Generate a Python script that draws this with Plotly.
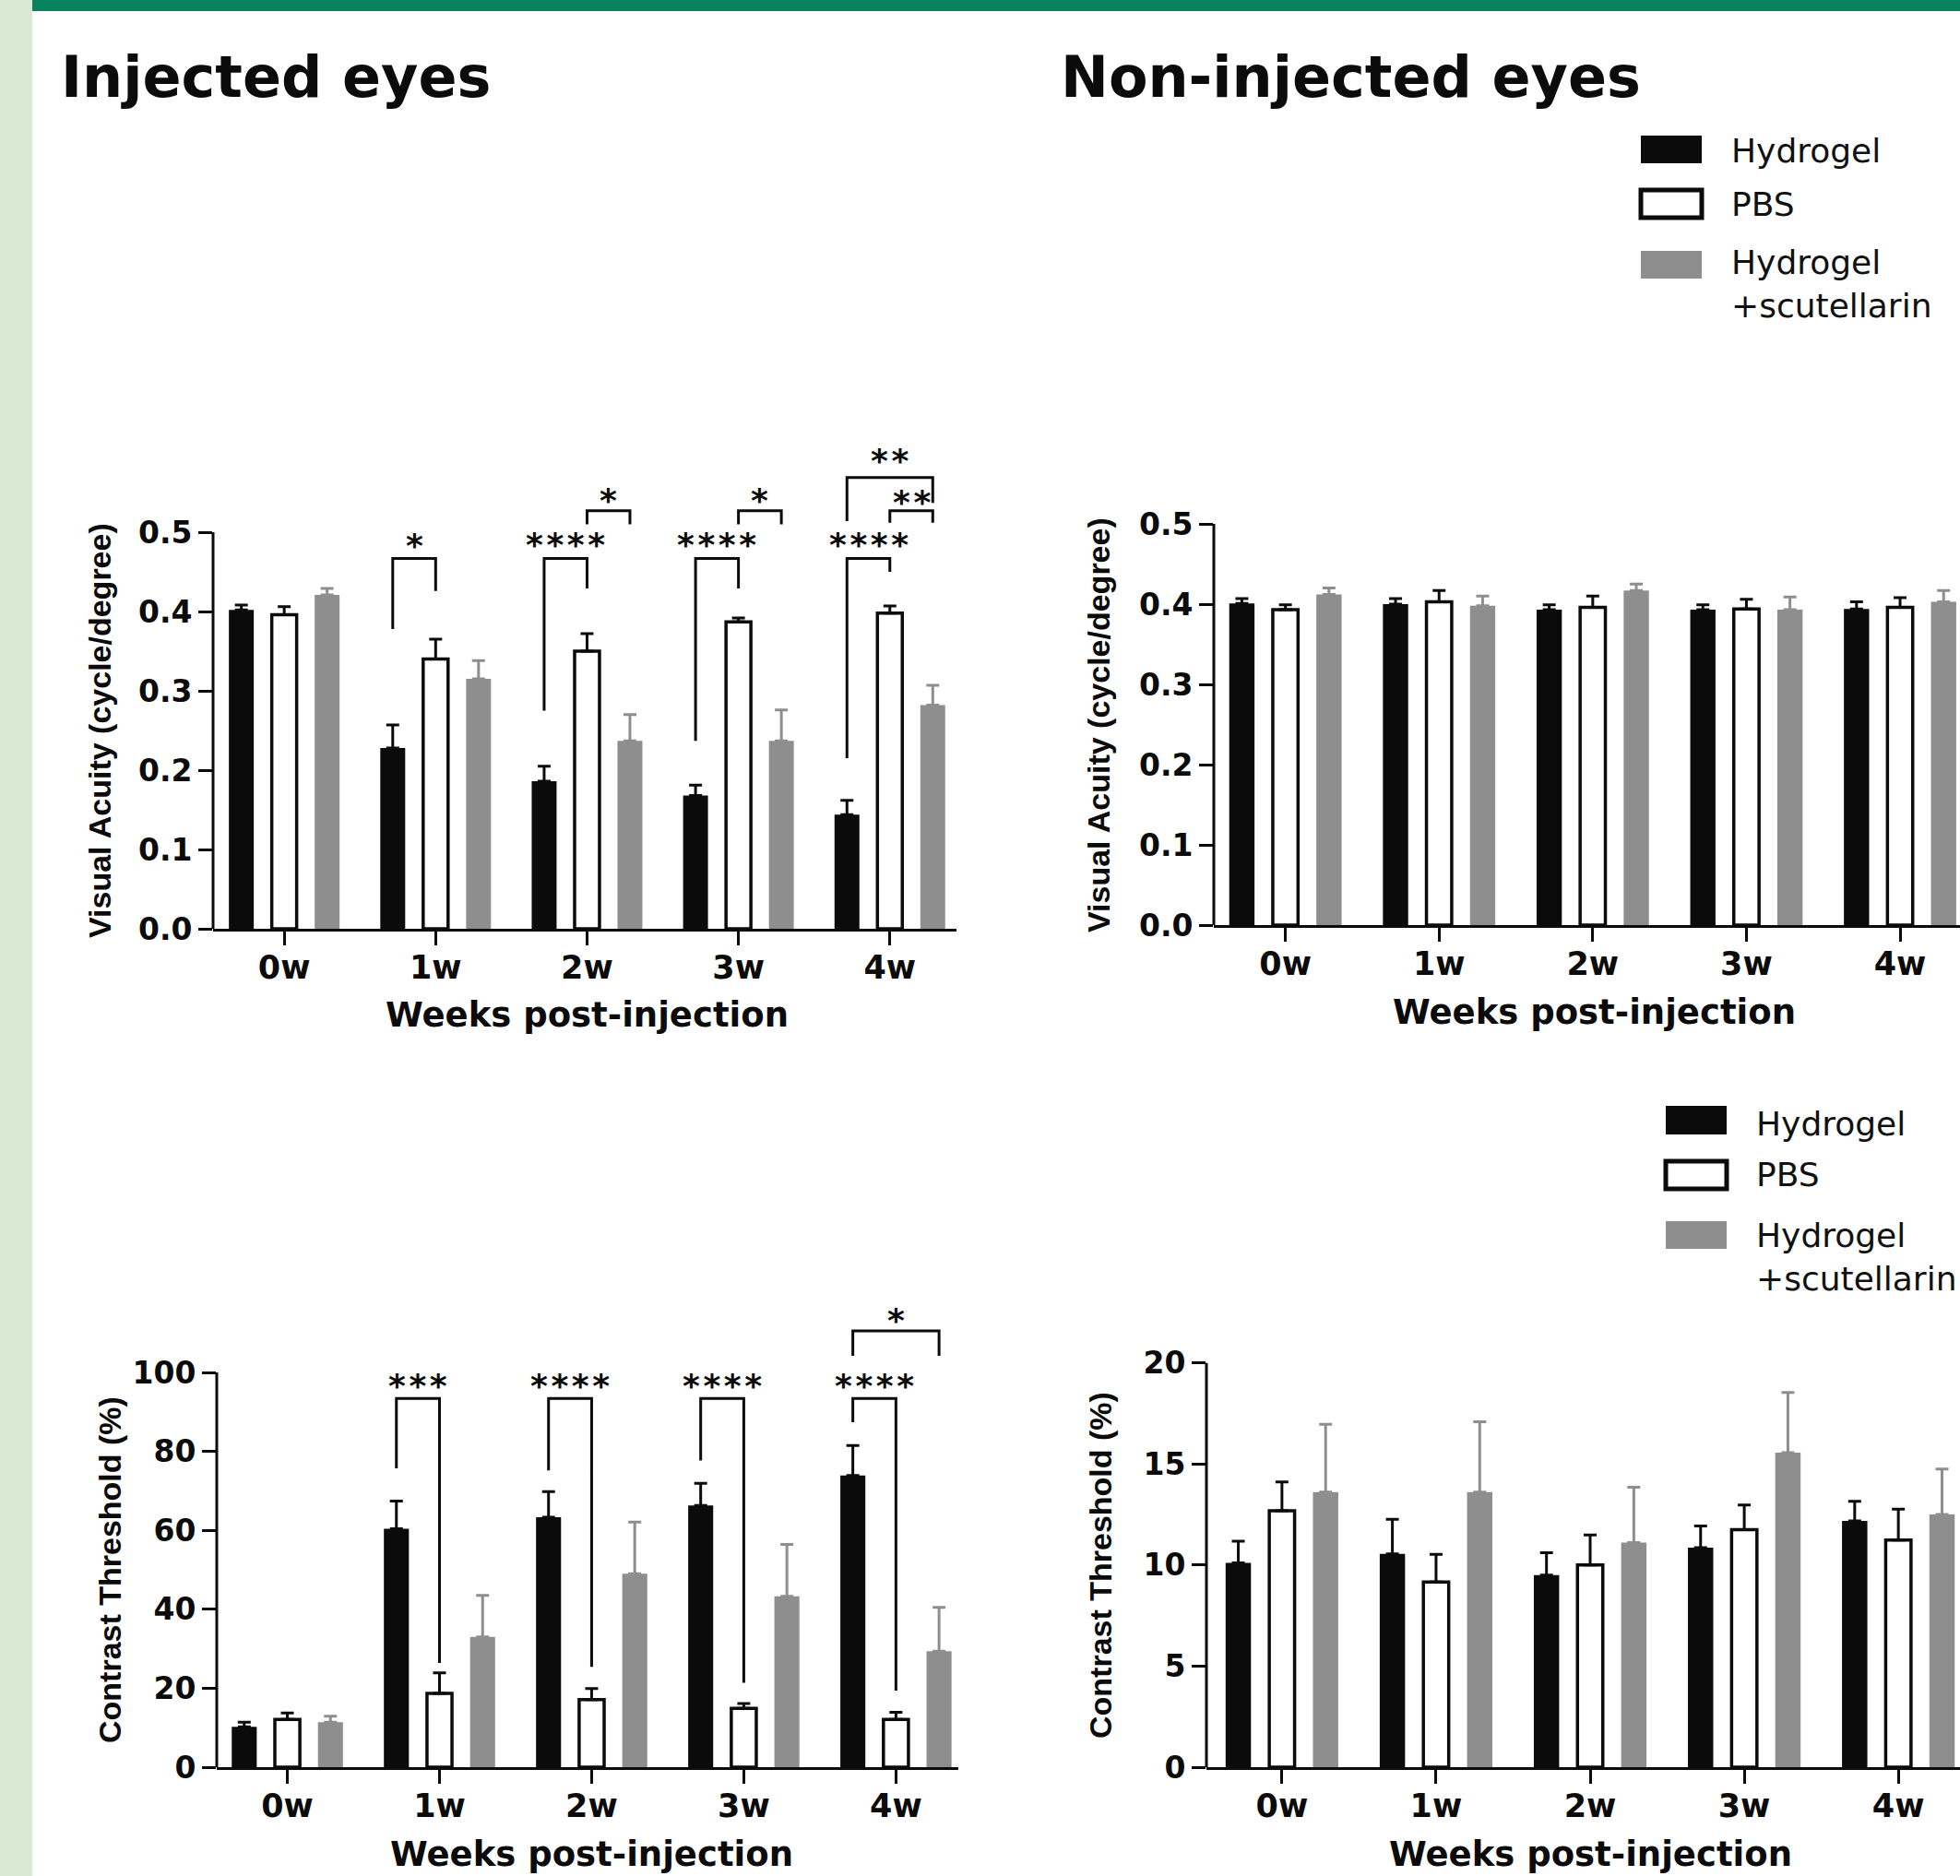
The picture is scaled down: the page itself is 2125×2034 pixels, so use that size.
import plotly.graph_objects as go

W, H = 2125, 2034

# ---------------- data ----------------
weeks = ["0w", "1w", "2w", "3w", "4w"]
groups = ["Hydrogel", "PBS", "Hydrogel\n+scutellarin"]

# Visual acuity, injected eyes (mean, SEM)
va_inj_hydrogel = [0.402, 0.228, 0.186, 0.168, 0.144]
va_inj_hydrogel_err = [0.006, 0.029, 0.019, 0.013, 0.018]
va_inj_pbs = [0.396, 0.340, 0.350, 0.387, 0.398]
va_inj_pbs_err = [0.010, 0.025, 0.022, 0.005, 0.009]
va_inj_scut = [0.421, 0.315, 0.237, 0.237, 0.282]
va_inj_scut_err = [0.008, 0.023, 0.033, 0.039, 0.025]

# Visual acuity, non-injected eyes
va_non_hydrogel = [0.401, 0.400, 0.393, 0.393, 0.394]
va_non_hydrogel_err = [0.006, 0.007, 0.006, 0.006, 0.009]
va_non_pbs = [0.393, 0.403, 0.396, 0.394, 0.396]
va_non_pbs_err = [0.006, 0.014, 0.014, 0.012, 0.012]
va_non_scut = [0.412, 0.398, 0.417, 0.393, 0.403]
va_non_scut_err = [0.008, 0.012, 0.008, 0.016, 0.014]

# Contrast threshold, injected eyes
ct_inj_hydrogel = [10.2, 60.4, 63.3, 66.3, 73.9]
ct_inj_hydrogel_err = [1.2, 7.0, 6.5, 5.6, 7.6]
ct_inj_pbs = [12.1, 18.7, 17.1, 14.9, 12.1]
ct_inj_pbs_err = [1.6, 5.2, 2.8, 1.2, 1.8]
ct_inj_scut = [11.4, 33.0, 49.0, 43.3, 29.4]
ct_inj_scut_err = [1.5, 10.5, 13.1, 13.1, 11.1]

# Contrast threshold, non-injected eyes
ct_non_hydrogel = [10.1, 10.55, 9.5, 10.85, 12.17]
ct_non_hydrogel_err = [1.07, 1.7, 1.1, 1.07, 0.97]
ct_non_pbs = [12.68, 9.15, 10.0, 11.74, 11.23]
ct_non_pbs_err = [1.42, 1.37, 1.48, 1.22, 1.53]
ct_non_scut = [13.6, 13.6, 11.1, 15.55, 12.5]
ct_non_scut_err = [3.35, 3.48, 2.74, 2.98, 2.24]

# significance brackets: (week index, group a, group b, left-leg bottom, top, right-leg bottom, label, label y)
va_inj_brackets = [
    (1, 0, 1, 0.378, 0.467, 0.426, "*", 0.494),
    (2, 0, 1, 0.275, 0.467, 0.429, "****", 0.495),
    (2, 1, 2, 0.510, 0.527, 0.510, "*", 0.550),
    (3, 0, 1, 0.237, 0.467, 0.429, "****", 0.495),
    (3, 1, 2, 0.510, 0.527, 0.510, "*", 0.550),
    (4, 0, 1, 0.215, 0.467, 0.450, "****", 0.495),
    (4, 1, 2, 0.512, 0.527, 0.512, "**", 0.548),
    (4, 0, 2, 0.514, 0.569, 0.537, "**", 0.600),
]
ct_inj_brackets = [
    (1, 0, 1, 75.7, 93.4, 26.4, "***", 98.8),
    (2, 0, 1, 75.2, 93.4, 25.4, "****", 98.8),
    (3, 0, 1, 77.7, 93.4, 21.4, "****", 98.8),
    (4, 0, 1, 87.4, 93.4, 19.4, "****", 98.8),
    (4, 0, 2, 104.2, 110.5, 104.2, "*", 115.4),
]

# ---------------- style ----------------
BLACK = "#0b0b0b"
GREY = "#8e8e8e"
BARGAP = 0.15
BARGROUPGAP = 0.42
SLOT = (1 - BARGAP) / 3

XTICK_FONT = dict(family="DejaVu Sans", size=35, color=BLACK, weight="bold")
YTICK_FONT = dict(family="DejaVu Sans", size=33, color=BLACK, weight="bold")
STAR_FONT = dict(family="DejaVu Sans", size=36, color=BLACK)
HAIR = "\u200a"


def px(x):
    return x / W


def py(y):
    return 1 - y / H


panels = [
    dict(s="", xl=231, xr=1037, xr_=[-0.47, 4.44], y0=1007, ppu=860.0, top=0.5, ptop=0.62,
         tv=[0, 0.1, 0.2, 0.3, 0.4, 0.5], fmt="{:.1f}",
         data=[(va_inj_hydrogel, va_inj_hydrogel_err), (va_inj_pbs, va_inj_pbs_err), (va_inj_scut, va_inj_scut_err)],
         br=va_inj_brackets),
    dict(s="2", xl=1316, xr=2125, xr_=[-0.466, 4.39], y0=1003, ppu=870.0, top=0.5, ptop=0.5,
         tv=[0, 0.1, 0.2, 0.3, 0.4, 0.5], fmt="{:.1f}",
         data=[(va_non_hydrogel, va_non_hydrogel_err), (va_non_pbs, va_non_pbs_err), (va_non_scut, va_non_scut_err)],
         br=[]),
    dict(s="3", xl=235, xr=1039, xr_=[-0.464, 4.41], y0=1916, ppu=4.28, top=100, ptop=118,
         tv=[0, 20, 40, 60, 80, 100], fmt="{:d}",
         data=[(ct_inj_hydrogel, ct_inj_hydrogel_err), (ct_inj_pbs, ct_inj_pbs_err), (ct_inj_scut, ct_inj_scut_err)],
         br=ct_inj_brackets),
    dict(s="4", xl=1308, xr=2125, xr_=[-0.49, 4.40], y0=1916, ppu=21.93, top=20, ptop=20,
         tv=[0, 5, 10, 15, 20], fmt="{:d}",
         data=[(ct_non_hydrogel, ct_non_hydrogel_err), (ct_non_pbs, ct_non_pbs_err), (ct_non_scut, ct_non_scut_err)],
         br=[]),
]

fig = go.Figure()
shapes = []
annotations = []

bar_styles = [
    dict(color=BLACK, line=dict(color=BLACK, width=0)),
    dict(color="white", line=dict(color=BLACK, width=3.5)),
    dict(color=GREY, line=dict(color=GREY, width=0)),
]
err_colors = [BLACK, BLACK, GREY]
xs = list(range(len(weeks)))

layout_axes = {}
for p in panels:
    s = p["s"]
    xa, ya = "x" + s, "y" + s
    for g, (vals, errs) in enumerate(p["data"]):
        fig.add_trace(go.Bar(
            x=xs, y=vals, name=groups[g], showlegend=False,
            xaxis=xa, yaxis=ya,
            marker=bar_styles[g],
            error_y=dict(type="data", array=errs, arrayminus=[0] * len(errs), symmetric=False,
                         color=err_colors[g], thickness=3, width=7),
        ))
    ytop_px = p["y0"] - p["ptop"] * p["ppu"]
    layout_axes["xaxis" + s] = dict(
        domain=[px(p["xl"]), px(p["xr"])], anchor=ya, range=p["xr_"],
        tickvals=xs, ticktext=weeks, ticks="outside", ticklen=15, tickwidth=3, tickcolor=BLACK,
        ticklabelstandoff=-6, automargin=False,
        showline=True, linewidth=3, linecolor=BLACK, showgrid=False, zeroline=False,
        tickfont=XTICK_FONT, fixedrange=True,
    )
    layout_axes["yaxis" + s] = dict(
        domain=[py(p["y0"]), py(ytop_px)], anchor=xa, range=[0, p["ptop"]],
        tickvals=p["tv"], ticktext=[p["fmt"].format(v) for v in p["tv"]],
        ticks="outside", ticklen=15, tickwidth=3, tickcolor=BLACK, automargin=False,
        showline=False, showgrid=False, zeroline=False, tickfont=YTICK_FONT, fixedrange=True,
    )
    # y axis line from 0 to top tick
    shapes.append(dict(type="line", xref=xa + " domain", yref=ya, x0=0, x1=0, y0=0, y1=p["top"],
                       line=dict(color=BLACK, width=3)))
    # significance brackets
    for (wk, ga, gb, ylb, yt, yrb, lab, ly) in p["br"]:
        xa_pos = wk + (ga - 1) * SLOT
        xb_pos = wk + (gb - 1) * SLOT
        shapes.append(dict(type="path", xref=xa, yref=ya,
                           path=f"M {xa_pos},{ylb} V {yt} H {xb_pos} V {yrb}",
                           line=dict(color=BLACK, width=3)))
        annotations.append(dict(xref=xa, yref=ya, x=(xa_pos + xb_pos) / 2, y=ly,
                                text="<b>" + HAIR.join(lab) + "</b>",
                                showarrow=False, font=STAR_FONT, xanchor="center", yanchor="middle",
                                yshift=-9, borderpad=0))

# axis titles
XT_FONT = dict(family="DejaVu Sans", size=37, color=BLACK)
YT_FONT = dict(family="Liberation Sans, Arial", size=34, color=BLACK)
for (cx, cy) in [(636, 1100), (1728, 1097), (641, 2010), (1724, 2010)]:
    annotations.append(dict(xref="paper", yref="paper", x=px(cx), y=py(cy), text="<b>Weeks post-injection</b>",
                            showarrow=False, font=XT_FONT, xanchor="center", yanchor="middle", borderpad=0))
for (cx, cy, t) in [(108, 792, "Visual Acuity (cycle/degree)"), (1191, 786, "Visual Acuity (cycle/degree)"),
                    (119, 1702, "Contrast Threshold (%)"), (1193, 1697, "Contrast Threshold (%)")]:
    annotations.append(dict(xref="paper", yref="paper", x=px(cx), y=py(cy), text="<b>" + t + "</b>",
                            showarrow=False, font=YT_FONT, textangle=-90, xanchor="center", yanchor="middle"))

# panel titles
TITLE_FONT = dict(family="DejaVu Sans", size=62, color=BLACK)
for (lx, t) in [(64, "Injected eyes"), (1148, "Non-injected eyes")]:
    annotations.append(dict(xref="paper", yref="paper", x=px(lx), y=py(83), text="<b>" + t + "</b>",
                            showarrow=False, font=TITLE_FONT, xanchor="left", yanchor="middle"))

# legends (drawn)
LEG_FONT = dict(family="DejaVu Sans", size=36, color="#111111")
legend_specs = [
    dict(x0=1779, x1=1845, rows=[(147, 177), (206, 236), (272, 302)], tx=1875, ty=[163, 221, 308]),
    dict(x0=1806, x1=1872, rows=[(1199, 1230), (1259, 1289), (1324, 1354)], tx=1902, ty=[1218, 1273, 1363]),
]
leg_fill = [BLACK, "white", GREY]
leg_line = [dict(color=BLACK, width=0), dict(color=BLACK, width=5), dict(color=GREY, width=0)]
leg_text = ["Hydrogel", "PBS", "Hydrogel<br>+scutellarin"]
for L in legend_specs:
    for i, (y0, y1) in enumerate(L["rows"]):
        shapes.append(dict(type="rect", xref="paper", yref="paper", x0=px(L["x0"]), x1=px(L["x1"]),
                           y0=py(y1), y1=py(y0), fillcolor=leg_fill[i], line=leg_line[i]))
    for t, yy in zip(leg_text, L["ty"]):
        annotations.append(dict(xref="paper", yref="paper", x=px(L["tx"]), y=py(yy), text=t, showarrow=False,
                                font=LEG_FONT, xanchor="left", yanchor="middle", align="left"))

# page decoration: green top band and light green left strip
shapes.append(dict(type="rect", xref="paper", yref="paper", x0=0, x1=px(35), y0=0, y1=1,
                   fillcolor="#d9ead4", line=dict(width=0), layer="below"))
shapes.append(dict(type="rect", xref="paper", yref="paper", x0=px(35), x1=1, y0=py(12), y1=1,
                   fillcolor="#06825f", line=dict(width=0), layer="below"))

fig.update_layout(
    width=W, height=H, autosize=False,
    margin=dict(l=0, r=0, t=0, b=0, pad=0, autoexpand=False),
    paper_bgcolor="white", plot_bgcolor="rgba(0,0,0,0)",
    barmode="group", bargap=BARGAP, bargroupgap=BARGROUPGAP,
    showlegend=False,
    shapes=shapes, annotations=annotations,
    **layout_axes,
)

fig.write_html(
    "out.html",
    config={"responsive": False, "displayModeBar": False},
    post_script=(
        "document.documentElement.style.margin='0';"
        "document.documentElement.style.padding='0';"
        "document.documentElement.style.overflow='hidden';"
        "document.body.style.margin='0';"
        "document.body.style.padding='0';"
        "document.body.style.overflow='hidden';"
    ),
)
